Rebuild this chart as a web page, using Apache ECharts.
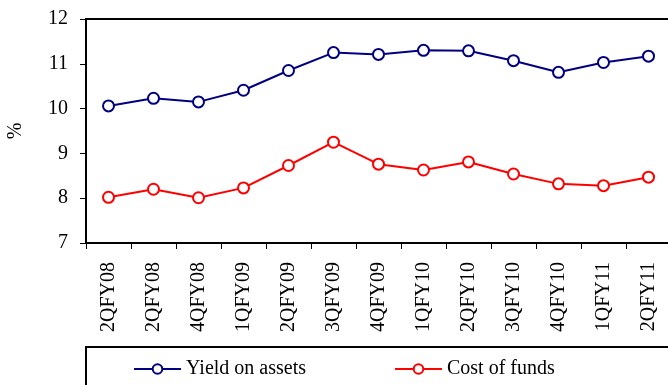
<!DOCTYPE html>
<html>
<head>
<meta charset="utf-8">
<script src="https://cdn.jsdelivr.net/npm/echarts@6/dist/echarts.min.js"></script>
<style>
  html, body { margin: 0; padding: 0; background: #fff; }
  #chart { width: 668px; height: 385px; }
</style>
</head>
<body>
<div id="chart"></div>
<script>
// Quarters on the category axis
var quarters = ['2QFY08', '2QFY08', '4QFY08', '1QFY09', '2QFY09', '3QFY09', '4QFY09',
                '1QFY10', '2QFY10', '3QFY10', '4QFY10', '1QFY11', '2QFY11'];
// Yield on assets, %
var yieldOnAssets = [10.06, 10.23, 10.15, 10.41, 10.85, 11.25, 11.21, 11.30, 11.29, 11.07, 10.81, 11.03, 11.17];
// Cost of funds, %
var costOfFunds = [8.02, 8.20, 8.01, 8.23, 8.73, 9.25, 8.76, 8.63, 8.81, 8.54, 8.32, 8.28, 8.47];
// Value axis range
var yMin = 7, yMax = 12, yStep = 1;

var serif = '"Liberation Serif", "DejaVu Serif", serif';
var chart = echarts.init(document.getElementById('chart'), null, { renderer: 'canvas' });

chart.setOption({
  animation: false,
  backgroundColor: '#fff',
  textStyle: { fontFamily: serif, color: '#000' },
  grid: {
    left: 86, top: 19, right: -3, bottom: 142,
    outerBoundsMode: 'none',
    containLabel: false,
    show: true, borderColor: '#000', borderWidth: 2, backgroundColor: 'transparent'
  },
  xAxis: {
    type: 'category',
    data: quarters,
    boundaryGap: true,
    axisLine: { lineStyle: { color: '#000', width: 2 } },
    axisTick: { show: true, length: 6, lineStyle: { color: '#000', width: 1 } },
    axisLabel: { rotate: 90, margin: 19, fontSize: 20, fontFamily: serif, color: '#000', interval: 0 }
  },
  yAxis: {
    type: 'value',
    min: yMin, max: yMax, interval: yStep,
    name: '%',
    nameLocation: 'middle',
    nameGap: 60,
    nameRotate: 90,
    nameTextStyle: { fontSize: 20, fontFamily: serif, color: '#000' },
    axisLine: { show: true, lineStyle: { color: '#000', width: 2 } },
    axisTick: { show: true, length: 6, lineStyle: { color: '#000', width: 1 } },
    splitLine: { show: false },
    axisLabel: { margin: 18, fontSize: 20, fontFamily: serif, color: '#000' }
  },
  legend: {
    left: 128, top: 354,
    itemWidth: 47, itemHeight: 12, itemGap: 88,
    textStyle: { fontSize: 20, fontFamily: serif, color: '#000' },
    data: ['Yield on assets', 'Cost of funds']
  },
  graphic: [{
    type: 'rect',
    shape: { x: 86, y: 347, width: 700, height: 100 },
    style: { fill: 'none', stroke: '#000', lineWidth: 2 },
    silent: true
  }],
  series: [
    {
      name: 'Yield on assets',
      type: 'line',
      data: yieldOnAssets,
      symbol: 'emptyCircle',
      symbolSize: 11,
      lineStyle: { color: '#000080', width: 2 },
      itemStyle: { color: '#000080', borderColor: '#000080', borderWidth: 2 }
    },
    {
      name: 'Cost of funds',
      type: 'line',
      data: costOfFunds,
      symbol: 'emptyCircle',
      symbolSize: 11,
      lineStyle: { color: '#ff0000', width: 2 },
      itemStyle: { color: '#ff0000', borderColor: '#ff0000', borderWidth: 2 }
    }
  ]
});
</script>
</body>
</html>
